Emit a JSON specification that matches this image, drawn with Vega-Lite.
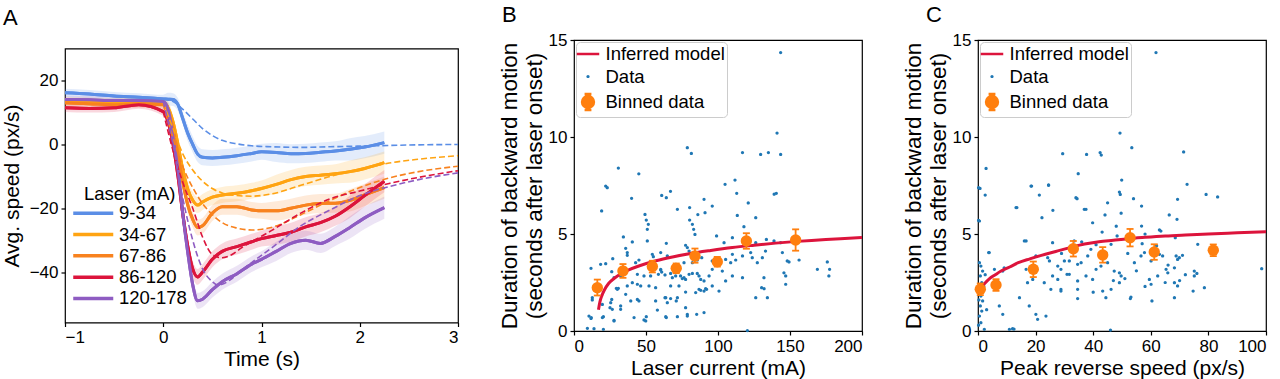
{
  "$schema": "https://vega.github.io/schema/vega-lite/v6.json",
  "background": "white",
  "padding": {"left": 0, "top": 3, "right": 0, "bottom": 0},
  "config": {
    "font": "Liberation Sans",
    "view": {"stroke": "#000", "strokeWidth": 1.2},
    "axis": {"grid": false, "domain": false, "tickColor": "#000", "tickSize": 4, "tickWidth": 1.2, "labelFontSize": 17, "labelColor": "#000", "titleFontSize": 21, "titleFontWeight": "normal", "titleColor": "#000", "labelPadding": 3, "titlePadding": 3},
    "title": {"anchor": "start", "frame": "group", "fontSize": 22, "fontWeight": "normal", "color": "#000"},
    "legend": {"labelFontSize": 18.5, "labelColor": "#000", "titleFontSize": 18.5, "titleFontWeight": "normal", "titleColor": "#000"}
  },
  "datasets": {
    "speed": [
      {"g":"9-34","t":-1,"v":16.2,"lo":14.9,"hi":17.5},{"g":"9-34","t":-0.75,"v":15.8,"lo":14.5,"hi":17.1},{"g":"9-34","t":-0.5,"v":15.2,"lo":13.9,"hi":16.5},{"g":"9-34","t":-0.25,"v":14.8,"lo":13.5,"hi":16.1},{"g":"9-34","t":0,"v":14.3,"lo":13.0,"hi":15.6},{"g":"9-34","t":0.05,"v":14.2,"lo":12.2,"hi":16.2},{"g":"9-34","t":0.1,"v":14.1,"lo":12.1,"hi":16.1},{"g":"9-34","t":0.15,"v":12.5,"lo":10.5,"hi":14.5},{"g":"9-34","t":0.2,"v":8,"lo":6,"hi":10},{"g":"9-34","t":0.25,"v":3.5,"lo":1,"hi":6},{"g":"9-34","t":0.3,"v":0,"lo":-2.5,"hi":2.5},{"g":"9-34","t":0.35,"v":-3,"lo":-5.5,"hi":-0.5},{"g":"9-34","t":0.4,"v":-4,"lo":-6.5,"hi":-1.5},{"g":"9-34","t":0.5,"v":-4.2,"lo":-6.7,"hi":-1.7},{"g":"9-34","t":0.6,"v":-4,"lo":-6.5,"hi":-1.5},{"g":"9-34","t":0.75,"v":-3.5,"lo":-6,"hi":-1},{"g":"9-34","t":0.9,"v":-2.8,"lo":-5.3,"hi":-0.3},{"g":"9-34","t":1.0,"v":-2.3,"lo":-4.8,"hi":0.2},{"g":"9-34","t":1.15,"v":-2.5,"lo":-5.5,"hi":0.5},{"g":"9-34","t":1.3,"v":-2.9,"lo":-5.9,"hi":0.1},{"g":"9-34","t":1.45,"v":-2.8,"lo":-5.8,"hi":0.2},{"g":"9-34","t":1.6,"v":-2.4,"lo":-5.4,"hi":0.6},{"g":"9-34","t":1.75,"v":-2,"lo":-5,"hi":1},{"g":"9-34","t":1.9,"v":-1.5,"lo":-5,"hi":2},{"g":"9-34","t":2.05,"v":-0.8,"lo":-4.3,"hi":2.7},{"g":"9-34","t":2.25,"v":0.6,"lo":-2.9,"hi":4.1},
      {"g":"34-67","t":-1,"v":13.6,"lo":12.3,"hi":14.9},{"g":"34-67","t":-0.75,"v":13.4,"lo":12.1,"hi":14.7},{"g":"34-67","t":-0.5,"v":13.2,"lo":11.9,"hi":14.5},{"g":"34-67","t":-0.25,"v":13.4,"lo":12.1,"hi":14.7},{"g":"34-67","t":0,"v":13.0,"lo":11.7,"hi":14.3},{"g":"34-67","t":0.05,"v":11.5,"lo":9.5,"hi":13.5},{"g":"34-67","t":0.1,"v":7,"lo":5,"hi":9},{"g":"34-67","t":0.15,"v":0,"lo":-2,"hi":2},{"g":"34-67","t":0.2,"v":-8,"lo":-10,"hi":-6},{"g":"34-67","t":0.25,"v":-14,"lo":-16.5,"hi":-11.5},{"g":"34-67","t":0.3,"v":-17.5,"lo":-20,"hi":-15},{"g":"34-67","t":0.35,"v":-19,"lo":-21.5,"hi":-16.5},{"g":"34-67","t":0.4,"v":-18,"lo":-20.5,"hi":-15.5},{"g":"34-67","t":0.5,"v":-16.5,"lo":-19,"hi":-14},{"g":"34-67","t":0.6,"v":-15.8,"lo":-18.3,"hi":-13.3},{"g":"34-67","t":0.75,"v":-15.3,"lo":-17.8,"hi":-12.8},{"g":"34-67","t":0.9,"v":-14.5,"lo":-17,"hi":-12},{"g":"34-67","t":1.0,"v":-13.8,"lo":-16.3,"hi":-11.3},{"g":"34-67","t":1.15,"v":-12.5,"lo":-15.5,"hi":-9.5},{"g":"34-67","t":1.3,"v":-11,"lo":-14,"hi":-8},{"g":"34-67","t":1.45,"v":-10,"lo":-13,"hi":-7},{"g":"34-67","t":1.6,"v":-9.6,"lo":-12.6,"hi":-6.6},{"g":"34-67","t":1.75,"v":-9.2,"lo":-12.2,"hi":-6.2},{"g":"34-67","t":1.9,"v":-8.5,"lo":-12,"hi":-5},{"g":"34-67","t":2.05,"v":-7.5,"lo":-11,"hi":-4},{"g":"34-67","t":2.25,"v":-5.7,"lo":-9.2,"hi":-2.2},
      {"g":"67-86","t":-1,"v":13.1,"lo":11.8,"hi":14.4},{"g":"67-86","t":-0.75,"v":12.8,"lo":11.5,"hi":14.1},{"g":"67-86","t":-0.5,"v":12.5,"lo":11.2,"hi":13.8},{"g":"67-86","t":-0.25,"v":12.8,"lo":11.5,"hi":14.1},{"g":"67-86","t":0,"v":12.5,"lo":11.2,"hi":13.8},{"g":"67-86","t":0.05,"v":10.5,"lo":8.5,"hi":12.5},{"g":"67-86","t":0.1,"v":5,"lo":3,"hi":7},{"g":"67-86","t":0.15,"v":-3,"lo":-5,"hi":-1},{"g":"67-86","t":0.2,"v":-12,"lo":-14,"hi":-10},{"g":"67-86","t":0.25,"v":-19,"lo":-21.5,"hi":-16.5},{"g":"67-86","t":0.3,"v":-23.5,"lo":-26,"hi":-21},{"g":"67-86","t":0.35,"v":-26,"lo":-28.5,"hi":-23.5},{"g":"67-86","t":0.4,"v":-25.5,"lo":-28,"hi":-23},{"g":"67-86","t":0.5,"v":-21.5,"lo":-24,"hi":-19},{"g":"67-86","t":0.6,"v":-19.5,"lo":-22,"hi":-17},{"g":"67-86","t":0.75,"v":-19.5,"lo":-22,"hi":-17},{"g":"67-86","t":0.9,"v":-20.5,"lo":-23,"hi":-18},{"g":"67-86","t":1.0,"v":-20.8,"lo":-23.3,"hi":-18.3},{"g":"67-86","t":1.15,"v":-20.8,"lo":-23.8,"hi":-17.8},{"g":"67-86","t":1.3,"v":-20,"lo":-23,"hi":-17},{"g":"67-86","t":1.45,"v":-19,"lo":-22,"hi":-16},{"g":"67-86","t":1.6,"v":-18.5,"lo":-21.5,"hi":-15.5},{"g":"67-86","t":1.75,"v":-18.4,"lo":-21.4,"hi":-15.4},{"g":"67-86","t":1.9,"v":-17.5,"lo":-21,"hi":-14},{"g":"67-86","t":2.05,"v":-15.8,"lo":-19.3,"hi":-12.3},{"g":"67-86","t":2.25,"v":-13.5,"lo":-17,"hi":-10},
      {"g":"86-120","t":-1,"v":11.5,"lo":10.2,"hi":12.8},{"g":"86-120","t":-0.75,"v":11.3,"lo":10,"hi":12.6},{"g":"86-120","t":-0.5,"v":11.5,"lo":10.2,"hi":12.8},{"g":"86-120","t":-0.25,"v":12.5,"lo":11.2,"hi":13.8},{"g":"86-120","t":0,"v":10.3,"lo":9,"hi":11.6},{"g":"86-120","t":0.05,"v":7,"lo":5,"hi":9},{"g":"86-120","t":0.1,"v":0,"lo":-2,"hi":2},{"g":"86-120","t":0.15,"v":-10,"lo":-12,"hi":-8},{"g":"86-120","t":0.2,"v":-22,"lo":-24,"hi":-20},{"g":"86-120","t":0.25,"v":-32,"lo":-34.5,"hi":-29.5},{"g":"86-120","t":0.3,"v":-39,"lo":-41.5,"hi":-36.5},{"g":"86-120","t":0.35,"v":-41.5,"lo":-44,"hi":-39},{"g":"86-120","t":0.4,"v":-40,"lo":-42.5,"hi":-37.5},{"g":"86-120","t":0.5,"v":-36,"lo":-38.5,"hi":-33.5},{"g":"86-120","t":0.6,"v":-33.5,"lo":-36,"hi":-31},{"g":"86-120","t":0.75,"v":-32,"lo":-34.5,"hi":-29.5},{"g":"86-120","t":0.9,"v":-30.5,"lo":-33,"hi":-28},{"g":"86-120","t":1.0,"v":-29.5,"lo":-32,"hi":-27},{"g":"86-120","t":1.15,"v":-28.5,"lo":-31.5,"hi":-25.5},{"g":"86-120","t":1.3,"v":-27.5,"lo":-30.5,"hi":-24.5},{"g":"86-120","t":1.45,"v":-25.8,"lo":-28.8,"hi":-22.8},{"g":"86-120","t":1.6,"v":-24.5,"lo":-27.5,"hi":-21.5},{"g":"86-120","t":1.75,"v":-22.5,"lo":-25.5,"hi":-19.5},{"g":"86-120","t":1.9,"v":-19.5,"lo":-23,"hi":-16},{"g":"86-120","t":2.05,"v":-16,"lo":-19.5,"hi":-12.5},{"g":"86-120","t":2.25,"v":-11.5,"lo":-15,"hi":-8},
      {"g":"120-178","t":-1,"v":14.1,"lo":12.8,"hi":15.4},{"g":"120-178","t":-0.75,"v":14,"lo":12.7,"hi":15.3},{"g":"120-178","t":-0.5,"v":13.8,"lo":12.5,"hi":15.1},{"g":"120-178","t":-0.25,"v":13.8,"lo":12.5,"hi":15.1},{"g":"120-178","t":0,"v":13.5,"lo":12.2,"hi":14.8},{"g":"120-178","t":0.05,"v":11,"lo":9,"hi":13},{"g":"120-178","t":0.1,"v":2,"lo":0,"hi":4},{"g":"120-178","t":0.15,"v":-8,"lo":-10,"hi":-6},{"g":"120-178","t":0.2,"v":-22,"lo":-24,"hi":-20},{"g":"120-178","t":0.25,"v":-34,"lo":-36.5,"hi":-31.5},{"g":"120-178","t":0.3,"v":-44,"lo":-46.5,"hi":-41.5},{"g":"120-178","t":0.35,"v":-49,"lo":-51.5,"hi":-46.5},{"g":"120-178","t":0.4,"v":-48.5,"lo":-51,"hi":-46},{"g":"120-178","t":0.5,"v":-45.5,"lo":-48,"hi":-43},{"g":"120-178","t":0.6,"v":-43,"lo":-45.5,"hi":-40.5},{"g":"120-178","t":0.75,"v":-40.5,"lo":-43,"hi":-38},{"g":"120-178","t":0.9,"v":-37.5,"lo":-40,"hi":-35},{"g":"120-178","t":1.0,"v":-36,"lo":-38.5,"hi":-33.5},{"g":"120-178","t":1.15,"v":-33.5,"lo":-36.5,"hi":-30.5},{"g":"120-178","t":1.3,"v":-31,"lo":-34,"hi":-28},{"g":"120-178","t":1.45,"v":-30,"lo":-33,"hi":-27},{"g":"120-178","t":1.6,"v":-31,"lo":-34,"hi":-28},{"g":"120-178","t":1.75,"v":-28.8,"lo":-31.8,"hi":-25.8},{"g":"120-178","t":1.9,"v":-26,"lo":-29.5,"hi":-22.5},{"g":"120-178","t":2.05,"v":-23,"lo":-26.5,"hi":-19.5},{"g":"120-178","t":2.25,"v":-19.8,"lo":-23.3,"hi":-16.3}
    ],
    "model": [
      {"g":"9-34","t":0,"v":14.3},{"g":"9-34","t":0.1,"v":13.5},{"g":"9-34","t":0.2,"v":11},{"g":"9-34","t":0.3,"v":8},{"g":"9-34","t":0.4,"v":5},{"g":"9-34","t":0.5,"v":2.8},{"g":"9-34","t":0.6,"v":1.3},{"g":"9-34","t":0.75,"v":0.2},{"g":"9-34","t":0.9,"v":-0.4},{"g":"9-34","t":1.1,"v":-0.7},{"g":"9-34","t":1.4,"v":-0.9},{"g":"9-34","t":1.7,"v":-0.7},{"g":"9-34","t":2.0,"v":-0.5},{"g":"9-34","t":2.3,"v":-0.3},{"g":"9-34","t":2.6,"v":-0.1},{"g":"9-34","t":3.0,"v":0},
      {"g":"34-67","t":0,"v":13},{"g":"34-67","t":0.1,"v":5},{"g":"34-67","t":0.2,"v":-3},{"g":"34-67","t":0.3,"v":-8},{"g":"34-67","t":0.4,"v":-11.5},{"g":"34-67","t":0.5,"v":-13.8},{"g":"34-67","t":0.6,"v":-15.2},{"g":"34-67","t":0.75,"v":-16},{"g":"34-67","t":0.9,"v":-16.2},{"g":"34-67","t":1.1,"v":-15.5},{"g":"34-67","t":1.4,"v":-12.8},{"g":"34-67","t":1.7,"v":-10},{"g":"34-67","t":2.0,"v":-7.8},{"g":"34-67","t":2.3,"v":-5.8},{"g":"34-67","t":2.6,"v":-4.6},{"g":"34-67","t":3.0,"v":-3.5},
      {"g":"67-86","t":0,"v":12.5},{"g":"67-86","t":0.1,"v":2},{"g":"67-86","t":0.2,"v":-7},{"g":"67-86","t":0.3,"v":-13.5},{"g":"67-86","t":0.4,"v":-18.5},{"g":"67-86","t":0.5,"v":-22},{"g":"67-86","t":0.6,"v":-24.5},{"g":"67-86","t":0.75,"v":-26.2},{"g":"67-86","t":0.9,"v":-26.8},{"g":"67-86","t":1.1,"v":-26},{"g":"67-86","t":1.4,"v":-22},{"g":"67-86","t":1.7,"v":-17.5},{"g":"67-86","t":2.0,"v":-13.5},{"g":"67-86","t":2.3,"v":-10.5},{"g":"67-86","t":2.6,"v":-8.5},{"g":"67-86","t":3.0,"v":-6.8},
      {"g":"86-120","t":0,"v":10.3},{"g":"86-120","t":0.1,"v":-2},{"g":"86-120","t":0.2,"v":-12},{"g":"86-120","t":0.3,"v":-20},{"g":"86-120","t":0.4,"v":-29},{"g":"86-120","t":0.5,"v":-34.5},{"g":"86-120","t":0.6,"v":-35.5},{"g":"86-120","t":0.7,"v":-34.5},{"g":"86-120","t":0.8,"v":-32.3},{"g":"86-120","t":0.9,"v":-30.5},{"g":"86-120","t":1.1,"v":-27},{"g":"86-120","t":1.4,"v":-21.5},{"g":"86-120","t":1.7,"v":-17},{"g":"86-120","t":2.0,"v":-14.6},{"g":"86-120","t":2.3,"v":-12.2},{"g":"86-120","t":2.6,"v":-10.3},{"g":"86-120","t":3.0,"v":-8.2},
      {"g":"120-178","t":0,"v":13.5},{"g":"120-178","t":0.1,"v":0},{"g":"120-178","t":0.2,"v":-17},{"g":"120-178","t":0.3,"v":-30},{"g":"120-178","t":0.4,"v":-39},{"g":"120-178","t":0.5,"v":-43},{"g":"120-178","t":0.55,"v":-44},{"g":"120-178","t":0.6,"v":-43.8},{"g":"120-178","t":0.7,"v":-42},{"g":"120-178","t":0.8,"v":-39.5},{"g":"120-178","t":0.9,"v":-37},{"g":"120-178","t":1.1,"v":-32.5},{"g":"120-178","t":1.4,"v":-25.5},{"g":"120-178","t":1.7,"v":-20.5},{"g":"120-178","t":2.0,"v":-16},{"g":"120-178","t":2.3,"v":-13.2},{"g":"120-178","t":2.6,"v":-11},{"g":"120-178","t":3.0,"v":-8.9}
    ],
    "scatB": [
      {"x":143.5,"y":14.35},{"x":141,"y":10.2},{"x":143.5,"y":9.1},{"x":135,"y":9.2},{"x":129.6,"y":9.1},{"x":117,"y":9.2},{"x":78.7,"y":9.45},{"x":81.5,"y":9.15},{"x":30.8,"y":8.4},{"x":45,"y":8.1},{"x":22,"y":7.47},{"x":23.1,"y":7.39},{"x":19.2,"y":6.19},{"x":40,"y":6.84},{"x":60.9,"y":6.99},{"x":64.1,"y":6.87},{"x":67,"y":7.2},{"x":71.8,"y":6.27},{"x":80.3,"y":6.36},{"x":90.3,"y":6.79},{"x":96,"y":6.44},{"x":49.3,"y":6.01},{"x":50.2,"y":5.72},{"x":51.6,"y":5.5},{"x":80.3,"y":5.72},{"x":82.2,"y":5.5},{"x":91,"y":6.1},{"x":83.1,"y":5.24},{"x":84,"y":4.98},{"x":50.9,"y":5.24},{"x":34.3,"y":4.85},{"x":40.5,"y":4.59},{"x":64.1,"y":4.52},{"x":50.9,"y":4.64},{"x":35.9,"y":4.26},{"x":37,"y":4.04},{"x":37,"y":3.9},{"x":26.9,"y":3.73},{"x":45.1,"y":3.66},{"x":77.5,"y":4.42},{"x":78.7,"y":4.3},{"x":79.9,"y":4.12},{"x":55.1,"y":3.83},{"x":18.5,"y":3.44},{"x":22,"y":3.47},{"x":11.8,"y":3.23},{"x":26.2,"y":3.06},{"x":27.8,"y":2.75},{"x":29.4,"y":2.2},{"x":30.8,"y":2.2},{"x":40.5,"y":2.49},{"x":46.3,"y":2.32},{"x":58.6,"y":2.92},{"x":60.2,"y":3.14},{"x":63.2,"y":2.89},{"x":67.1,"y":2.97},{"x":68.3,"y":2.75},{"x":75.2,"y":2.7},{"x":77.5,"y":2.66},{"x":88,"y":2.1},{"x":90.3,"y":2.06},{"x":91.4,"y":2.18},{"x":12.7,"y":1.72},{"x":12.7,"y":1.6},{"x":26.2,"y":1.63},{"x":19.7,"y":1.37},{"x":25,"y":1.2},{"x":32.4,"y":1.29},{"x":32.4,"y":1.12},{"x":39.4,"y":1.55},{"x":45.1,"y":1.55},{"x":56.7,"y":1.55},{"x":57.9,"y":1.08},{"x":63.2,"y":1.72},{"x":64.8,"y":1.46},{"x":71,"y":1.55},{"x":77.5,"y":1.2},{"x":78.7,"y":0.86},{"x":10.4,"y":0.77},{"x":11.8,"y":0.65},{"x":20.4,"y":0.74},{"x":27.8,"y":0.55},{"x":41.7,"y":0.69},{"x":48.6,"y":0.57},{"x":50.2,"y":0.74},{"x":64.1,"y":0.69},{"x":71.8,"y":0.74},{"x":85.2,"y":0.86},{"x":9.3,"y":0.14},{"x":13.9,"y":0.12},{"x":20.4,"y":0.09},
      {"x":104.9,"y":7.56},{"x":111.8,"y":7.78},{"x":113.4,"y":5.96},{"x":121,"y":6.6},{"x":126.2,"y":5.84},{"x":118,"y":5.38},{"x":110,"y":4.81},{"x":99,"y":4.9},{"x":104.2,"y":4.55},{"x":126.2,"y":4.55},{"x":133.6,"y":4.72},{"x":138.9,"y":4.64},{"x":143.5,"y":4.55},{"x":133,"y":4.12},{"x":122.7,"y":4.04},{"x":117,"y":3.87},{"x":110,"y":3.95},{"x":105.3,"y":3.69},{"x":108.8,"y":3.52},{"x":112.3,"y":3.66},{"x":123.8,"y":3.78},{"x":127.3,"y":3.52},{"x":130.8,"y":3.78},{"x":144.7,"y":4.04},{"x":148.1,"y":3.61},{"x":149.3,"y":3.56},{"x":156.3,"y":3.66},{"x":145.8,"y":3.0},{"x":147,"y":2.84},{"x":147,"y":2.41},{"x":169,"y":3.18},{"x":175.9,"y":3.56},{"x":177.5,"y":3.18},{"x":177,"y":2.84},{"x":110,"y":2.84},{"x":117,"y":2.75},{"x":131.9,"y":2.75},{"x":130.3,"y":2.23},{"x":132,"y":2.18},{"x":126.2,"y":1.72},{"x":134.3,"y":1.72},{"x":96,"y":2.32},{"x":100.7,"y":2.06},{"x":105.3,"y":2.58},{"x":96,"y":3.18},{"x":103,"y":3.09},{"x":93.8,"y":2.84},{"x":120.4,"y":0.02},{"x":90.3,"y":0.95},{"x":139,"y":7.05},{"x":140.5,"y":7.1},{"x":113,"y":7.1},{"x":86,"y":6.0},
      {"x":70.6,"y":2.84},{"x":74,"y":2.84},{"x":76.4,"y":2.75},{"x":79.9,"y":2.92},{"x":82.2,"y":2.97},{"x":85.6,"y":2.97},{"x":86.8,"y":2.84},{"x":88,"y":2.66},{"x":90.3,"y":2.58},{"x":92.1,"y":2.15},{"x":86.8,"y":2.15},{"x":84.5,"y":1.98},{"x":77.5,"y":2.01},{"x":72.9,"y":2.32},{"x":67.1,"y":2.32},{"x":63.7,"y":1.72},{"x":67.1,"y":1.67},{"x":71.8,"y":1.72},{"x":82.2,"y":3.52},{"x":85.6,"y":3.66},{"x":88.7,"y":3.78},{"x":96,"y":3.61},{"x":76.4,"y":3.52},{"x":70.6,"y":3.44},{"x":60.2,"y":4.04},{"x":64.8,"y":3.87},{"x":54.4,"y":3.95},{"x":60.2,"y":3.18},{"x":60.9,"y":3.04},{"x":53.2,"y":2.84},{"x":52.1,"y":2.32},{"x":56.7,"y":2.23},{"x":48.6,"y":2.84},{"x":42.8,"y":3.52},{"x":44,"y":2.92},{"x":44,"y":2.41},{"x":44,"y":1.63},{"x":37,"y":2.32},{"x":35.9,"y":1.89},{"x":32.4,"y":2.84},{"x":30.1,"y":2.15},{"x":25.5,"y":1.46},{"x":26.6,"y":1.12},{"x":12,"y":0.69},{"x":19.7,"y":0.69},{"x":27.8,"y":0.52},{"x":49.8,"y":0.52},{"x":63.7,"y":0.74},{"x":78.7,"y":0.77}
    ],
    "binB": [
      {"x":16.2,"y":2.23,"lo":1.83,"hi":2.65},{"x":34,"y":3.09,"lo":2.74,"hi":3.45},{"x":54.4,"y":3.32,"lo":3.02,"hi":3.62},{"x":71,"y":3.23,"lo":2.98,"hi":3.48},{"x":84,"y":3.87,"lo":3.52,"hi":4.25},{"x":99.5,"y":3.57,"lo":3.32,"hi":3.82},{"x":119.7,"y":4.64,"lo":4.24,"hi":5.04},{"x":153.9,"y":4.69,"lo":4.14,"hi":5.24}
    ],
    "fitB": [
      {"x":17,"y":1.1},{"x":18,"y":1.5},{"x":19.5,"y":1.85},{"x":21,"y":2.1},{"x":24,"y":2.45},{"x":28,"y":2.72},{"x":32,"y":2.93},{"x":38,"y":3.15},{"x":45,"y":3.35},{"x":55,"y":3.58},{"x":65,"y":3.76},{"x":80,"y":3.98},{"x":95,"y":4.15},{"x":110,"y":4.3},{"x":125,"y":4.42},{"x":140,"y":4.53},{"x":155,"y":4.62},{"x":170,"y":4.69},{"x":185,"y":4.76},{"x":200,"y":4.82}
    ],
    "scatC": [
      {"x":61.8,"y":14.35},{"x":49.3,"y":10.2},{"x":29.4,"y":9.14},{"x":37.7,"y":9.1},{"x":42.4,"y":9.2},{"x":42.8,"y":9.07},{"x":53.4,"y":9.45},{"x":71.4,"y":9.23},{"x":2.8,"y":8.38},{"x":34.8,"y":8.11},{"x":49.9,"y":7.78},{"x":18.4,"y":7.47},{"x":24.5,"y":7.51},{"x":72.6,"y":7.56},{"x":0.7,"y":7.35},{"x":2.5,"y":7.01},{"x":49.1,"y":7.16},{"x":49.4,"y":7.04},{"x":79.2,"y":7.04},{"x":83.2,"y":6.91},{"x":34.4,"y":6.82},{"x":54,"y":6.82},{"x":69.3,"y":6.79},{"x":45,"y":6.61},{"x":13.5,"y":6.36},{"x":26,"y":6.22},{"x":56.8,"y":6.44},{"x":66.4,"y":5.98},{"x":44.1,"y":5.98},{"x":49.7,"y":6.07},{"x":22.2,"y":5.84},{"x":36.9,"y":6.27},{"x":69.1,"y":5.76},{"x":0.2,"y":5.7},{"x":56.8,"y":5.41},{"x":63,"y":5.21},{"x":63.5,"y":5.15},{"x":43.1,"y":5.1},{"x":16.1,"y":4.64},{"x":48.3,"y":4.9},{"x":68.5,"y":4.81},{"x":76.3,"y":4.47},{"x":3.7,"y":4.04},{"x":42.7,"y":4.04},{"x":39.8,"y":5.58},{"x":25.9,"y":4.55},{"x":33.4,"y":4.64},{"x":39.2,"y":4.21},{"x":46.2,"y":4.47},{"x":54.3,"y":3.52},{"x":60.1,"y":3.61},{"x":65.3,"y":3.18},{"x":65.9,"y":3.0},{"x":62.4,"y":2.84},{"x":59.5,"y":2.66},{"x":68.2,"y":3.26},{"x":69.3,"y":3.69},{"x":69.9,"y":3.78},{"x":68.8,"y":3.87},{"x":63,"y":3.95},{"x":64.1,"y":3.87},{"x":56.6,"y":3.87},{"x":57.8,"y":4.04},{"x":75.1,"y":2.84},{"x":76,"y":2.97},{"x":74.7,"y":2.06},{"x":78.6,"y":2.23},{"x":68.2,"y":2.49},{"x":69.3,"y":2.32},{"x":68.2,"y":1.72},{"x":60.4,"y":1.55},{"x":60.1,"y":2.41},{"x":52.9,"y":1.67},{"x":49.1,"y":3.0},{"x":49.7,"y":2.84},{"x":49.1,"y":2.49},{"x":47.3,"y":3.09},{"x":45,"y":3.52},{"x":44.4,"y":4.04},{"x":42.7,"y":3.35},{"x":41,"y":3.18},{"x":39.8,"y":2.66},{"x":38.1,"y":3.87},{"x":37.5,"y":2.84},{"x":35.8,"y":3.52},{"x":34.6,"y":3.44},{"x":31.7,"y":3.61},{"x":30.9,"y":2.92},{"x":27.7,"y":3.35},{"x":27.7,"y":2.66},{"x":24.2,"y":3.78},{"x":25.3,"y":2.15},{"x":28.8,"y":2.15},{"x":20.1,"y":3.87},{"x":16.7,"y":3.18},{"x":17.2,"y":2.49},{"x":34.6,"y":1.67},{"x":44.4,"y":1.72},{"x":34.6,"y":2.58},{"x":43.3,"y":2.06},{"x":46.2,"y":2.15},{"x":53.1,"y":1.75},{"x":98.5,"y":3.21},{"x":75.1,"y":3.09},
      {"x":0.5,"y":5.67},{"x":0.2,"y":7.39},{"x":3.9,"y":4.04},{"x":0.5,"y":3.52},{"x":1,"y":3.35},{"x":1.6,"y":3.09},{"x":0.8,"y":2.84},{"x":1.3,"y":2.49},{"x":0.5,"y":2.15},{"x":1.0,"y":1.8},{"x":1.6,"y":1.55},{"x":0.8,"y":1.29},{"x":1.3,"y":1.03},{"x":0.5,"y":0.77},{"x":1.0,"y":0.43},{"x":2.2,"y":0.09},{"x":5.7,"y":3.18},{"x":9.1,"y":3.26},{"x":8.6,"y":3.09},{"x":7.4,"y":1.29},{"x":8.6,"y":0.86},{"x":6.8,"y":2.6},{"x":10.9,"y":0.09},{"x":12,"y":0.12},{"x":14.4,"y":1.72},{"x":17.8,"y":1.29},{"x":19,"y":2.66},{"x":20.1,"y":0.86},{"x":20.7,"y":0.6},{"x":23.6,"y":0.77},{"x":23,"y":2.49},{"x":25.9,"y":2.84},{"x":28.8,"y":3.18},{"x":24.8,"y":3.61},{"x":30,"y":3.61},{"x":28.8,"y":2.06},{"x":31.7,"y":2.92},{"x":34.6,"y":2.15},{"x":34,"y":6.87},{"x":37.5,"y":6.27},{"x":21.3,"y":7.01},{"x":16.7,"y":4.64},{"x":13.2,"y":6.36},{"x":18.6,"y":7.47},{"x":24.5,"y":7.53},{"x":2.5,"y":2.9},{"x":0.3,"y":1.6},{"x":2,"y":2.3},{"x":0.2,"y":0.3},{"x":3,"y":1.1},{"x":46,"y":0.05},{"x":12.5,"y":0.1},
      {"x":66,"y":3.4},{"x":71,"y":3.9},{"x":72,"y":2.9},{"x":65,"y":2.5},{"x":58,"y":2.3},{"x":55,"y":3.1},{"x":51,"y":2.7},{"x":47,"y":2.6},{"x":41,"y":4.45},{"x":36,"y":4.6},{"x":32,"y":4.35},{"x":29,"y":4.0},{"x":48,"y":5.4},{"x":40,"y":2.0},{"x":57,"y":4.5},{"x":58,"y":5.0},{"x":52,"y":4.0},{"x":70,"y":2.6},{"x":62,"y":4.4}
    ],
    "binC": [
      {"x":0.8,"y":2.15,"lo":1.85,"hi":2.45},{"x":6.25,"y":2.37,"lo":2.07,"hi":2.67},{"x":19.2,"y":3.18,"lo":2.78,"hi":3.58},{"x":33.1,"y":4.24,"lo":3.84,"hi":4.64},{"x":43.3,"y":3.92,"lo":3.52,"hi":4.32},{"x":52.8,"y":4.81,"lo":4.36,"hi":5.26},{"x":61.2,"y":4.07,"lo":3.67,"hi":4.47},{"x":81.7,"y":4.16,"lo":3.86,"hi":4.46}
    ],
    "fitC": [
      {"x":0,"y":2.06},{"x":2,"y":2.4},{"x":4,"y":2.7},{"x":6,"y":2.9},{"x":8,"y":3.09},{"x":11,"y":3.3},{"x":14,"y":3.52},{"x":18,"y":3.72},{"x":22,"y":3.9},{"x":27,"y":4.1},{"x":32,"y":4.3},{"x":37,"y":4.48},{"x":42,"y":4.6},{"x":47,"y":4.68},{"x":52,"y":4.76},{"x":58,"y":4.83},{"x":65,"y":4.9},{"x":72,"y":4.95},{"x":80,"y":5.0},{"x":90,"y":5.06},{"x":100,"y":5.12}
    ]
  },
  "resolve": {"scale": {"color": "independent", "shape": "independent", "stroke": "independent"}, "legend": {"color": "independent", "shape": "independent", "stroke": "independent"}},
  "bounds": "flush",
  "center": true,
  "spacing": 116,
  "hconcat": [
    {
      "width": 393, "height": 274,
      "title": {"text": "A", "offset": 19, "dx": -62},
      "encoding": {
        "x": {"field": "t", "type": "quantitative", "scale": {"domain": [-1, 3], "nice": false}, "axis": {"values": [-1, 0, 1, 2, 3], "title": "Time (s)"}},
        "color": {"field": "g", "type": "nominal",
          "scale": {"domain": ["9-34", "34-67", "67-86", "86-120", "120-178"], "range": ["#5b8ee6", "#ffa412", "#f8821e", "#dc143c", "#8e5cc2"]},
          "legend": {"title": "Laser (mA)", "orient": "none", "legendX": 19, "legendY": 136, "symbolType": "M-3,0L3,0", "symbolSize": 178, "symbolStrokeWidth": 3.5, "symbolOpacity": 1, "symbolDash": [1, 0], "rowPadding": 2.3, "titleAnchor": "start", "titlePadding": 1, "labelOffset": 16.5, "padding": 0}
        }
      },
      "layer": [
        {
          "data": {"name": "speed"},
          "mark": {"type": "line", "strokeWidth": 3, "interpolate": "monotone"},
          "encoding": {"y": {"field": "v", "type": "quantitative", "scale": {"domain": [-55.8, 30.1], "nice": false}, "axis": {"values": [-40, -20, 0, 20], "title": "Avg. speed (px/s)", "titlePadding": 7}}}
        },
        {
          "data": {"name": "speed"},
          "mark": {"type": "area", "opacity": 0.17, "interpolate": "monotone"},
          "encoding": {"y": {"field": "lo", "type": "quantitative"}, "y2": {"field": "hi"}}
        },
        {
          "mark": {"type": "rule", "color": "#000", "strokeWidth": 1.2},
          "encoding": {"y": {"datum": 0}, "color": {"value": "#000"}}
        },
        {
          "data": {"name": "speed"},
          "mark": {"type": "line", "strokeWidth": 3, "interpolate": "monotone"},
          "encoding": {"y": {"field": "v", "type": "quantitative"}}
        },
        {
          "data": {"name": "model"},
          "mark": {"type": "line", "strokeWidth": 1.6, "strokeDash": [6, 3], "interpolate": "monotone"},
          "encoding": {"y": {"field": "v", "type": "quantitative"}}
        }
      ]
    },
    {
      "width": 288, "height": 291,
      "title": {"text": "B", "offset": 4, "dx": -72},
      "encoding": {
        "x": {"field": "x", "type": "quantitative", "scale": {"domain": [0, 200], "nice": false}, "axis": {"values": [0, 50, 100, 150, 200], "title": "Laser current (mA)"}},
        "y": {"field": "y", "type": "quantitative", "scale": {"domain": [0, 15], "nice": false}, "axis": {"values": [0, 5, 10, 15], "title": ["Duration of backward motion", "(seconds after laser onset)"], "titleFontSize": 22.5, "titleLineHeight": 25, "titlePadding": 2}}
      },
      "layer": [
        {"mark": {"type": "rule", "color": "#555", "strokeWidth": 1}, "encoding": {"y": {"datum": 2.27}}},
        {
          "data": {"name": "scatB"},
          "mark": {"type": "point", "filled": true, "size": 324, "opacity": 1, "strokeWidth": 2.5},
          "encoding": {
            "color": {"datum": "Data", "scale": {"domain": ["Inferred model", "Data", "Binned data"], "range": ["#dc143c", "#1f77b4", "#ff7f0e"]},
              "legend": {"title": null, "orient": "top-left", "offset": 2, "padding": 1.5, "strokeColor": "#ccc", "fillColor": "white", "cornerRadius": 4, "rowPadding": 2.5, "symbolSize": 324, "symbolStrokeWidth": 2.5, "symbolOpacity": 1, "labelOffset": 7}},
            "shape": {"datum": "Data", "scale": {"domain": ["Inferred model", "Data", "Binned data"], "range": ["M-1.25,0L1.25,0", "M-0.18,0A0.18,0.18 0 1,0 0.18,0A0.18,0.18 0 1,0 -0.18,0Z", "M-0.66,0A0.66,0.66 0 1,0 0.66,0A0.66,0.66 0 1,0 -0.66,0ZM0,-0.9L0,0.9M-0.38,-0.9L0.38,-0.9M-0.38,0.9L0.38,0.9"]},
              "legend": {"title": null, "orient": "top-left", "offset": 2, "padding": 1.5, "strokeColor": "#ccc", "fillColor": "white", "cornerRadius": 4, "rowPadding": 2.5, "symbolSize": 324, "symbolStrokeWidth": 2.5, "symbolOpacity": 1, "labelOffset": 7}},
            "stroke": {"datum": "Data", "scale": {"domain": ["Inferred model", "Data", "Binned data"], "range": ["#dc143c", "rgba(0,0,0,0)", "#ff7f0e"]},
              "legend": {"title": null, "orient": "top-left", "offset": 2, "padding": 1.5, "strokeColor": "#ccc", "fillColor": "white", "cornerRadius": 4, "rowPadding": 2.5, "symbolSize": 324, "symbolStrokeWidth": 2.5, "symbolOpacity": 1, "labelOffset": 7}}
          }
        },
        {"data": {"name": "fitB"}, "mark": {"type": "line", "color": "#dc143c", "strokeWidth": 3, "interpolate": "monotone"}, "encoding": {}},
        {"data": {"name": "binB"}, "mark": {"type": "rule", "color": "#ff7f0e", "strokeWidth": 1.8}, "encoding": {"y": {"field": "lo", "type": "quantitative"}, "y2": {"field": "hi"}}},
        {"data": {"name": "binB"}, "mark": {"type": "tick", "orient": "horizontal", "color": "#ff7f0e", "thickness": 1.8, "size": 7, "opacity": 1}, "encoding": {"y": {"field": "lo", "type": "quantitative"}}},
        {"data": {"name": "binB"}, "mark": {"type": "tick", "orient": "horizontal", "color": "#ff7f0e", "thickness": 1.8, "size": 7, "opacity": 1}, "encoding": {"y": {"field": "hi", "type": "quantitative"}}},
        {"data": {"name": "binB"}, "mark": {"type": "point", "filled": true, "size": 130, "color": "#ff7f0e", "opacity": 1}, "encoding": {}}
      ]
    },
    {
      "width": 288, "height": 291,
      "title": {"text": "C", "offset": 4, "dx": -52},
      "encoding": {
        "x": {"field": "x", "type": "quantitative", "scale": {"domain": [0, 100], "nice": false}, "axis": {"values": [0, 20, 40, 60, 80, 100], "title": "Peak reverse speed (px/s)"}},
        "y": {"field": "y", "type": "quantitative", "scale": {"domain": [0, 15], "nice": false}, "axis": {"values": [0, 5, 10, 15], "title": ["Duration of backward motion", "(seconds after laser onset)"], "titleFontSize": 22.5, "titleLineHeight": 25, "titlePadding": 2}}
      },
      "layer": [
        {"mark": {"type": "rule", "color": "#555", "strokeWidth": 1}, "encoding": {"y": {"datum": 2.27}}},
        {
          "data": {"name": "scatC"},
          "mark": {"type": "point", "filled": true, "size": 324, "opacity": 1, "strokeWidth": 2.5},
          "encoding": {
            "color": {"datum": "Data", "scale": {"domain": ["Inferred model", "Data", "Binned data"], "range": ["#dc143c", "#1f77b4", "#ff7f0e"]},
              "legend": {"title": null, "orient": "top-left", "offset": 2, "padding": 1.5, "strokeColor": "#ccc", "fillColor": "white", "cornerRadius": 4, "rowPadding": 2.5, "symbolSize": 324, "symbolStrokeWidth": 2.5, "symbolOpacity": 1, "labelOffset": 7}},
            "shape": {"datum": "Data", "scale": {"domain": ["Inferred model", "Data", "Binned data"], "range": ["M-1.25,0L1.25,0", "M-0.18,0A0.18,0.18 0 1,0 0.18,0A0.18,0.18 0 1,0 -0.18,0Z", "M-0.66,0A0.66,0.66 0 1,0 0.66,0A0.66,0.66 0 1,0 -0.66,0ZM0,-0.9L0,0.9M-0.38,-0.9L0.38,-0.9M-0.38,0.9L0.38,0.9"]},
              "legend": {"title": null, "orient": "top-left", "offset": 2, "padding": 1.5, "strokeColor": "#ccc", "fillColor": "white", "cornerRadius": 4, "rowPadding": 2.5, "symbolSize": 324, "symbolStrokeWidth": 2.5, "symbolOpacity": 1, "labelOffset": 7}},
            "stroke": {"datum": "Data", "scale": {"domain": ["Inferred model", "Data", "Binned data"], "range": ["#dc143c", "rgba(0,0,0,0)", "#ff7f0e"]},
              "legend": {"title": null, "orient": "top-left", "offset": 2, "padding": 1.5, "strokeColor": "#ccc", "fillColor": "white", "cornerRadius": 4, "rowPadding": 2.5, "symbolSize": 324, "symbolStrokeWidth": 2.5, "symbolOpacity": 1, "labelOffset": 7}}
          }
        },
        {"data": {"name": "fitC"}, "mark": {"type": "line", "color": "#dc143c", "strokeWidth": 3, "interpolate": "monotone"}, "encoding": {}},
        {"data": {"name": "binC"}, "mark": {"type": "rule", "color": "#ff7f0e", "strokeWidth": 1.8}, "encoding": {"y": {"field": "lo", "type": "quantitative"}, "y2": {"field": "hi"}}},
        {"data": {"name": "binC"}, "mark": {"type": "tick", "orient": "horizontal", "color": "#ff7f0e", "thickness": 1.8, "size": 7, "opacity": 1}, "encoding": {"y": {"field": "lo", "type": "quantitative"}}},
        {"data": {"name": "binC"}, "mark": {"type": "tick", "orient": "horizontal", "color": "#ff7f0e", "thickness": 1.8, "size": 7, "opacity": 1}, "encoding": {"y": {"field": "hi", "type": "quantitative"}}},
        {"data": {"name": "binC"}, "mark": {"type": "point", "filled": true, "size": 130, "color": "#ff7f0e", "opacity": 1}, "encoding": {}}
      ]
    }
  ]
}
